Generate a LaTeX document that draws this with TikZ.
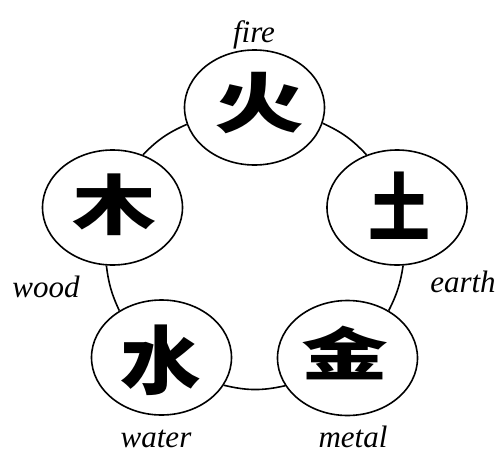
\documentclass[tikz,border=0pt]{standalone}
\usepackage{fontspec}
\setmainfont{Liberation Serif}
\newfontfamily\cjk{Noto Sans CJK SC}
\usetikzlibrary{shapes.geometric}
\begin{document}
\begin{tikzpicture}[x=1pt,y=-1pt,
  elem/.style={draw=black,line width=1.6pt,ellipse,minimum width=140pt,minimum height=115pt,inner sep=0pt},
  glyph/.style={inner sep=0pt,font=\cjk\bfseries\fontsize{62}{62}\selectfont},
  lbl/.style={inner sep=0pt,anchor=base,font=\itshape\fontsize{31}{31}\selectfont},
  link/.style={draw=black,line width=1.6pt}]
\useasboundingbox (0,0) rectangle (501,453);
\node[elem] (fire)  at (254.5,107.5) {};
\node[elem] (earth) at (397,207.5) {};
\node[elem] (metal) at (347.5,358) {};
\node[elem] (water) at (161.5,357.5) {};
\node[elem] (wood)  at (112.5,207.5) {};
\node[glyph] (cfire)  at (259,103) {\scalebox{1.45}[1.05]{火}};
\node[glyph] (cearth) at (399,206) {\scalebox{1.0}[1.2]{土}};
\node[glyph] (cmetal) at (345,353) {\scalebox{1.4}[0.92]{金}};
\node[glyph] (cwater) at (161,360) {\scalebox{1.3}[1.2]{水}};
\node[glyph] (cwood)  at (114,205) {\scalebox{1.35}[1.05]{木}};
\node[lbl] (lfire)  at (254,42) {fire};
\node[lbl] (learth) at (463,292) {earth};
\node[lbl] (lmetal) at (353,447) {metal};
\node[lbl] (lwater) at (156,447) {water};
\node[lbl] (lwood)  at (46,297) {wood};
\draw[link] (fire.347) to[bend left=11] (earth.120);
\draw[link] (earth.276) to[bend left=9] (metal.49);
\draw[link] (metal.204) to[bend left=13] (water.336);
\draw[link] (water.132) to[bend left=9] (wood.264);
\draw[link] (wood.60) to[bend left=11] (fire.194);
\end{tikzpicture}
\end{document}
